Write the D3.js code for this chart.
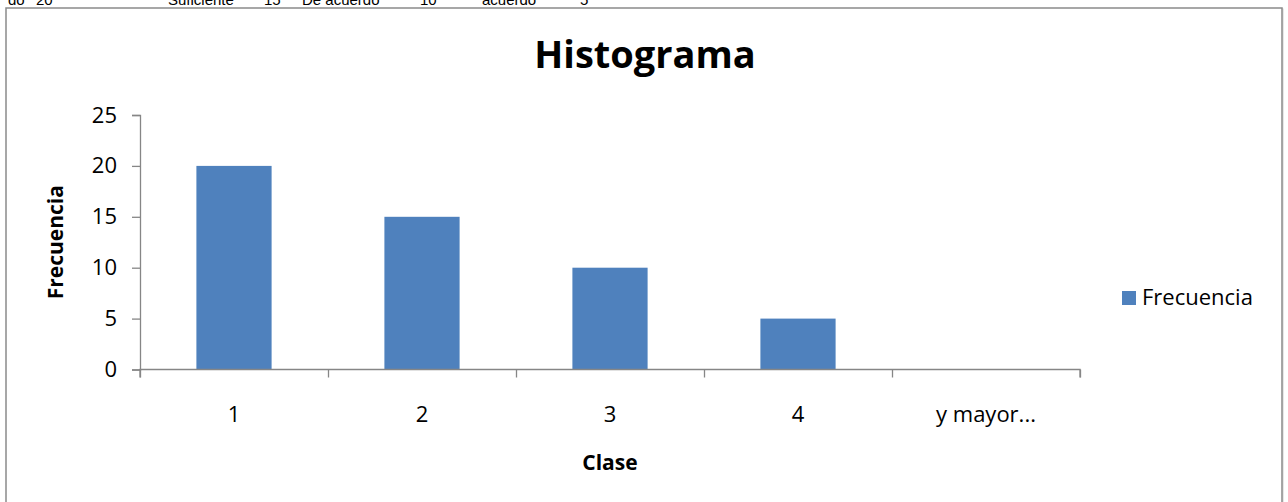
<!DOCTYPE html>
<html><head><meta charset="utf-8">
<script src="https://cdn.jsdelivr.net/npm/d3@7/dist/d3.min.js"></script>
<style>body{margin:0;background:#fff;overflow:hidden}svg{display:block}</style>
</head><body>
<svg id="c" width="1288" height="502"></svg>
<script>
const categories = ["1", "2", "3", "4", "y mayor..."];
const frecuencia = [20, 15, 10, 5, 0];
const yTicks = [0, 5, 10, 15, 20, 25];
const topTexts = [["do", "20"], ["Suficiente", "15"], ["De acuerdo", "10"], ["acuerdo", "5"]];
const topX = [[8, 36], [168, 264], [302, 420], [482, 580]];

const svg = d3.select("#c");
const font = "'Open Sans', Lato, sans-serif";

// clipped header text from spreadsheet above
topTexts.forEach((t, i) => {
  t.forEach((s, j) => {
    svg.append("text").attr("x", topX[i][j]).attr("y", 5)
      .attr("font-family", "'Liberation Sans', Arial, sans-serif").attr("font-size", 15)
      .attr("fill", "#000").text(s);
  });
});

// chart frame
svg.append("rect").attr("x", 7).attr("y", 9).attr("width", 1276).attr("height", 520)
  .attr("fill", "none").attr("stroke", "#d0d0d0").attr("stroke-width", 1);
svg.append("rect").attr("x", 6).attr("y", 8).attr("width", 1276).attr("height", 520)
  .attr("fill", "#fff").attr("stroke", "#8a8a8a").attr("stroke-width", 1.5);

const x0 = 140, x1 = 1080, yTop = 115, yBot = 369.5;
const x = d3.scaleBand().domain(categories).range([x0, x1]).paddingInner(0.6).paddingOuter(0.3);
const y = d3.scaleLinear().domain([0, 25]).range([yBot, yTop]);

// bars
svg.append("g").selectAll("rect").data(categories).join("rect")
  .attr("x", d => x(d)).attr("width", x.bandwidth())
  .attr("y", (d, i) => y(frecuencia[i]))
  .attr("height", (d, i) => yBot - y(frecuencia[i]))
  .attr("fill", "#4F81BD");

// y axis
const ya = svg.append("g").attr("transform", `translate(${x0},0)`)
  .call(d3.axisLeft(y).tickValues(yTicks).tickSize(8).tickPadding(15));
ya.select(".domain").attr("stroke", "#868686").attr("stroke-width", 1.3);
ya.selectAll(".tick line").attr("stroke", "#868686").attr("stroke-width", 1.3);
ya.selectAll(".tick text").attr("font-family", font).attr("font-size", 22).attr("fill", "#000");

// x axis with boundary ticks
const xb = d3.scaleLinear().domain([0, categories.length]).range([x0, x1]);
const xa = svg.append("g").attr("transform", `translate(0,${yBot})`)
  .call(d3.axisBottom(xb).tickValues(d3.range(categories.length + 1)).tickSize(8).tickFormat(""));
xa.select(".domain").attr("stroke", "#868686").attr("stroke-width", 1.3).attr("d", `M${x0},8V0H${x1}V8`);
xa.selectAll(".tick line").attr("stroke", "#868686").attr("stroke-width", 1.3);
svg.append("g").selectAll("text").data(categories).join("text")
  .attr("x", d => x(d) + x.bandwidth() / 2).attr("y", 422)
  .attr("text-anchor", "middle").attr("font-family", font).attr("font-size", 22).attr("fill", "#000")
  .text(d => d);

// titles
svg.append("text").attr("x", 645).attr("y", 68).attr("text-anchor", "middle")
  .attr("font-family", font).attr("font-weight", "bold").attr("font-size", 38).attr("fill", "#000").text("Histograma");
svg.append("text").attr("x", 610).attr("y", 470).attr("text-anchor", "middle")
  .attr("font-family", font).attr("font-weight", "bold").attr("font-size", 21).attr("fill", "#000").text("Clase");
svg.append("text").attr("transform", `translate(63,${(yTop + yBot) / 2}) rotate(-90)`).attr("text-anchor", "middle")
  .attr("font-family", font).attr("font-weight", "bold").attr("font-size", 21).attr("fill", "#000").text("Frecuencia");

// legend
svg.append("rect").attr("x", 1122).attr("y", 291).attr("width", 14).attr("height", 14).attr("fill", "#4F81BD");
svg.append("text").attr("x", 1142).attr("y", 305).attr("font-family", font).attr("font-size", 22)
  .attr("fill", "#000").text("Frecuencia");
</script>
</body></html>
